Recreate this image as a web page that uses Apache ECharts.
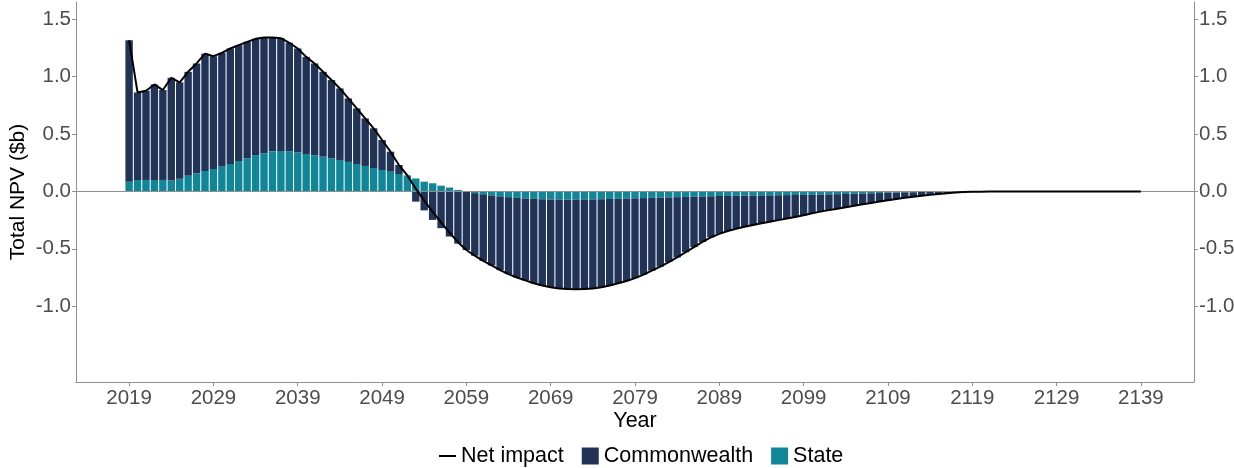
<!DOCTYPE html>
<html><head><meta charset="utf-8">
<script src="https://cdn.jsdelivr.net/npm/echarts@6/dist/echarts.min.js"></script>
<style>html,body{margin:0;padding:0;background:#fff}#chart{width:1234px;height:468px}</style>
</head><body><div id="chart"></div>
<script>
const startYear = 2019;
const tickYears = [2019, 2029, 2039, 2049, 2059, 2069, 2079, 2089, 2099, 2109, 2119, 2129, 2139];
const yTicks = [-1.0, -0.5, 0, 0.5, 1.0, 1.5];

const commonwealth = [
  1.232, 0.762, 0.777, 0.832, 0.783, 0.895, 0.840, 0.905, 0.957, 1.022,
  0.982, 0.991, 1.006, 1.009, 1.014, 1.012, 1.009, 0.992, 0.983, 0.945,
  0.905, 0.846, 0.800, 0.739, 0.681, 0.623, 0.553, 0.484, 0.414, 0.346,
  0.261, 0.174, 0.078, 0.000, -0.089, -0.165, -0.248, -0.320, -0.393, -0.455,
  -0.505, -0.545, -0.580, -0.610, -0.642, -0.670, -0.694, -0.714, -0.735, -0.752,
  -0.765, -0.774, -0.778, -0.780, -0.779, -0.775, -0.767, -0.754, -0.736, -0.718,
  -0.695, -0.667, -0.634, -0.601, -0.563, -0.525, -0.482, -0.439, -0.396, -0.358,
  -0.330, -0.306, -0.287, -0.271, -0.257, -0.243, -0.230, -0.217, -0.204, -0.191,
  -0.178, -0.161, -0.148, -0.137, -0.126, -0.115, -0.104, -0.094, -0.084, -0.074,
  -0.065, -0.056, -0.048, -0.040, -0.033, -0.026, -0.019, -0.013, -0.009, -0.005,
  -0.003, -0.002, -0.001, 0, 0, 0, 0, 0, 0, 0,
  0, 0, 0, 0, 0, 0, 0, 0, 0, 0,
  0
];

const state = [
  0.085, 0.100, 0.100, 0.100, 0.100, 0.095, 0.110, 0.137, 0.158, 0.178,
  0.196, 0.216, 0.239, 0.265, 0.289, 0.317, 0.332, 0.349, 0.352, 0.350,
  0.340, 0.326, 0.315, 0.303, 0.289, 0.274, 0.257, 0.239, 0.222, 0.204,
  0.187, 0.172, 0.152, 0.140, 0.113, 0.085, 0.071, 0.050, 0.034, 0.013,
  -0.005, -0.015, -0.025, -0.035, -0.043, -0.050, -0.056, -0.061, -0.065, -0.068,
  -0.070, -0.071, -0.072, -0.072, -0.071, -0.070, -0.068, -0.066, -0.064, -0.062,
  -0.060, -0.058, -0.056, -0.054, -0.052, -0.050, -0.048, -0.046, -0.044, -0.042,
  -0.040, -0.039, -0.038, -0.037, -0.036, -0.035, -0.034, -0.033, -0.032, -0.031,
  -0.030, -0.029, -0.028, -0.026, -0.024, -0.022, -0.020, -0.018, -0.016, -0.014,
  -0.012, -0.010, -0.008, -0.007, -0.005, -0.004, -0.003, -0.002, -0.001, -0.001,
  0, 0, 0, 0, 0, 0, 0, 0, 0, 0,
  0, 0, 0, 0, 0, 0, 0, 0, 0, 0,
  0
];

const netImpact = [
  1.317, 0.862, 0.877, 0.932, 0.883, 0.990, 0.950, 1.042, 1.115, 1.200,
  1.178, 1.207, 1.245, 1.274, 1.303, 1.329, 1.341, 1.341, 1.335, 1.295,
  1.245, 1.172, 1.115, 1.042, 0.970, 0.897, 0.810, 0.723, 0.636, 0.550,
  0.448, 0.346, 0.230, 0.140, 0.024, -0.080, -0.177, -0.270, -0.359, -0.442,
  -0.510, -0.560, -0.605, -0.645, -0.685, -0.720, -0.750, -0.775, -0.800, -0.820,
  -0.835, -0.845, -0.850, -0.852, -0.850, -0.845, -0.835, -0.820, -0.800, -0.780,
  -0.755, -0.725, -0.690, -0.655, -0.615, -0.575, -0.530, -0.485, -0.440, -0.400,
  -0.370, -0.345, -0.325, -0.308, -0.293, -0.278, -0.264, -0.250, -0.236, -0.222,
  -0.208, -0.190, -0.176, -0.163, -0.150, -0.137, -0.124, -0.112, -0.100, -0.088,
  -0.077, -0.066, -0.056, -0.047, -0.038, -0.030, -0.022, -0.015, -0.010, -0.006,
  -0.003, -0.002, -0.001, 0, 0, 0, 0, 0, 0, 0,
  0, 0, 0, 0, 0, 0, 0, 0, 0, 0,
  0
];

const years = commonwealth.map((_, i) => startYear + i);

const FONT = 'Liberation Sans, Arial, sans-serif';
const NAVY = '#213457';
const TEAL = '#128699';
const axisGrey = '#8f8f8f';
const labelGrey = '#4d4d4d';

const chart = echarts.init(document.getElementById('chart'), null, { renderer: 'canvas' });

const yAxisCommon = {
  type: 'value', min: -1.66, max: 1.65,
  splitLine: { show: false },
  axisLine: { show: true, onZero: false, lineStyle: { color: axisGrey, width: 1 } },
  axisTick: { show: true, length: 4, customValues: yTicks, lineStyle: { color: axisGrey } },
  axisLabel: { customValues: yTicks, formatter: v => v.toFixed(1), fontSize: 20.5, color: labelGrey, fontFamily: FONT, margin: 5 }
};

const option = {
  animation: false,
  textStyle: { fontFamily: FONT },
  grid: { left: 76, right: 40, top: 2, bottom: 86, containLabel: false, outerBoundsMode: 'none' },
  legend: {
    left: 434, top: 440,
    itemWidth: 17, itemHeight: 17, itemGap: 18,
    symbolKeepAspect: true,
    textStyle: { fontSize: 21.5, color: '#000', fontFamily: FONT },
    data: [
      { name: 'Net impact', icon: 'path://M0,0 L17,0 L17,2 L0,2 Z' },
      { name: 'Commonwealth', icon: 'rect' },
      { name: 'State', icon: 'rect' }
    ]
  },
  xAxis: {
    type: 'value', min: 2012.7, max: 2145.3,
    name: 'Year', nameLocation: 'middle', nameGap: 28, nameMoveOverlap: false,
    nameTextStyle: { fontSize: 21.5, color: '#000', fontFamily: FONT },
    splitLine: { show: false },
    axisLine: { show: true, onZero: false, lineStyle: { color: axisGrey, width: 1 } },
    axisTick: { show: true, length: 4, customValues: tickYears, lineStyle: { color: axisGrey } },
    axisLabel: { customValues: tickYears, formatter: v => String(v), fontSize: 20.5, color: labelGrey, fontFamily: FONT, margin: 6 }
  },
  yAxis: [
    Object.assign({}, yAxisCommon, {
      position: 'left', name: 'Total NPV ($b)', nameLocation: 'middle', nameGap: 47, nameRotate: 90,
      nameMoveOverlap: false,
      nameTextStyle: { fontSize: 21, color: '#000', fontFamily: FONT }
    }),
    Object.assign({}, yAxisCommon, { position: 'right' })
  ],
  series: [
    {
      name: 'State', type: 'bar', stack: 'npv', barWidth: 7.4,
      encode: { x: 1, y: 0 },
      data: years.map((y, i) => [state[i], y]),
      itemStyle: { color: TEAL },
      markLine: {
        silent: true, symbol: 'none', label: { show: false },
        lineStyle: { color: axisGrey, type: 'solid', width: 1 },
        data: [{ yAxis: 0 }]
      }
    },
    {
      name: 'Commonwealth', type: 'bar', stack: 'npv', barWidth: 7.4,
      encode: { x: 1, y: 0 },
      data: years.map((y, i) => [commonwealth[i], y]),
      itemStyle: { color: NAVY }
    },
    {
      name: 'Net impact', type: 'line', z: 10,
      data: years.map((y, i) => [y, netImpact[i]]),
      symbol: 'none', showSymbol: false,
      lineStyle: { color: '#000', width: 2 },
      itemStyle: { color: '#000' }
    }
  ]
};
chart.setOption(option);
</script>
</body></html>
